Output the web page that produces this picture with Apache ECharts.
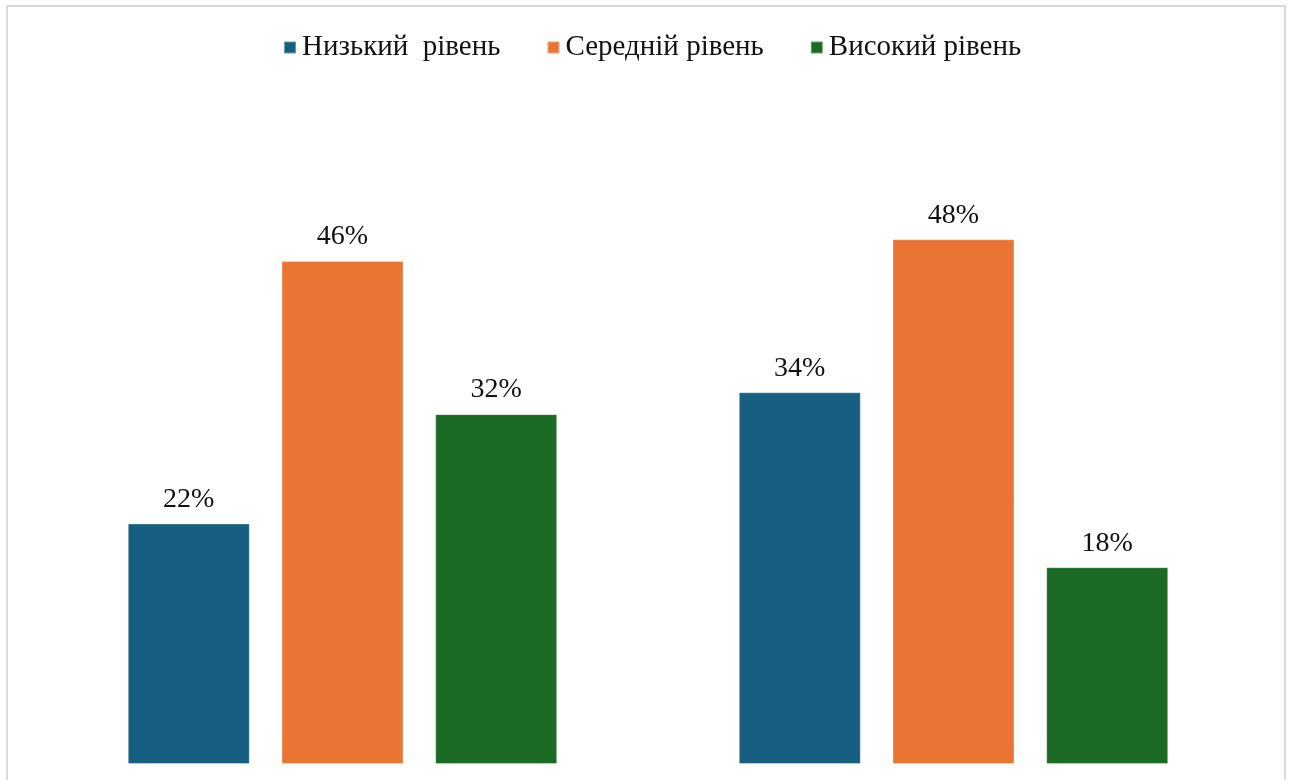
<!DOCTYPE html>
<html>
<head>
<meta charset="utf-8">
<script src="https://cdn.jsdelivr.net/npm/echarts@6/dist/echarts.min.js"></script>
<style>
  html, body { margin: 0; padding: 0; background: #ffffff; }
  #chart { width: 1292px; height: 780px; }
</style>
</head>
<body>
<div id="chart"></div>
<script>
// Two groups, three achievement levels each (percent)
const categories = ['Група 1', 'Група 2'];
const seriesNames = ['Низький  рівень', 'Середній рівень', 'Високий рівень'];
const lowLevel = [22, 34];
const midLevel = [46, 48];
const highLevel = [32, 18];
const colors = ['#175F80', '#E97434', '#1B6B24'];

const fontFamily = '"Liberation Serif", "Times New Roman", serif';

const chart = echarts.init(document.getElementById('chart'));

const makeSeries = (name, data, color) => ({
  name: name,
  type: 'bar',
  data: data,
  barWidth: 122,
  barGap: '26%',
  itemStyle: { color: color, borderColor: 'rgba(255,255,255,0.35)', borderWidth: 1 },
  label: {
    show: true,
    position: 'top',
    distance: 10,
    formatter: '{c}%',
    color: '#111111',
    fontFamily: fontFamily,
    fontSize: 28
  }
});

chart.setOption({
  animation: false,
  backgroundColor: '#ffffff',
  graphic: [{
    type: 'rect',
    shape: { x: 7, y: 6, width: 1278, height: 820 },
    style: { fill: 'none', stroke: '#d9d9d9', lineWidth: 2 },
    silent: true
  }],
  legend: {
    top: 28,
    left: 278,
    itemWidth: 12,
    itemHeight: 12,
    itemGap: 46,
    icon: 'rect',
    textStyle: { fontFamily: fontFamily, fontSize: 29, color: '#111111', padding: [0, 0, 0, 1] },
    data: seriesNames
  },
  grid: { left: 37, right: 33, top: 108, bottom: 16 },
  xAxis: {
    type: 'category',
    data: categories,
    axisLine: { show: false },
    axisTick: { show: false },
    axisLabel: { show: false }
  },
  yAxis: {
    type: 'value',
    min: 0,
    max: 60,
    interval: 10,
    show: false,
    splitLine: { show: false }
  },
  series: [
    makeSeries(seriesNames[0], lowLevel, colors[0]),
    makeSeries(seriesNames[1], midLevel, colors[1]),
    makeSeries(seriesNames[2], highLevel, colors[2])
  ]
});
</script>
</body>
</html>
